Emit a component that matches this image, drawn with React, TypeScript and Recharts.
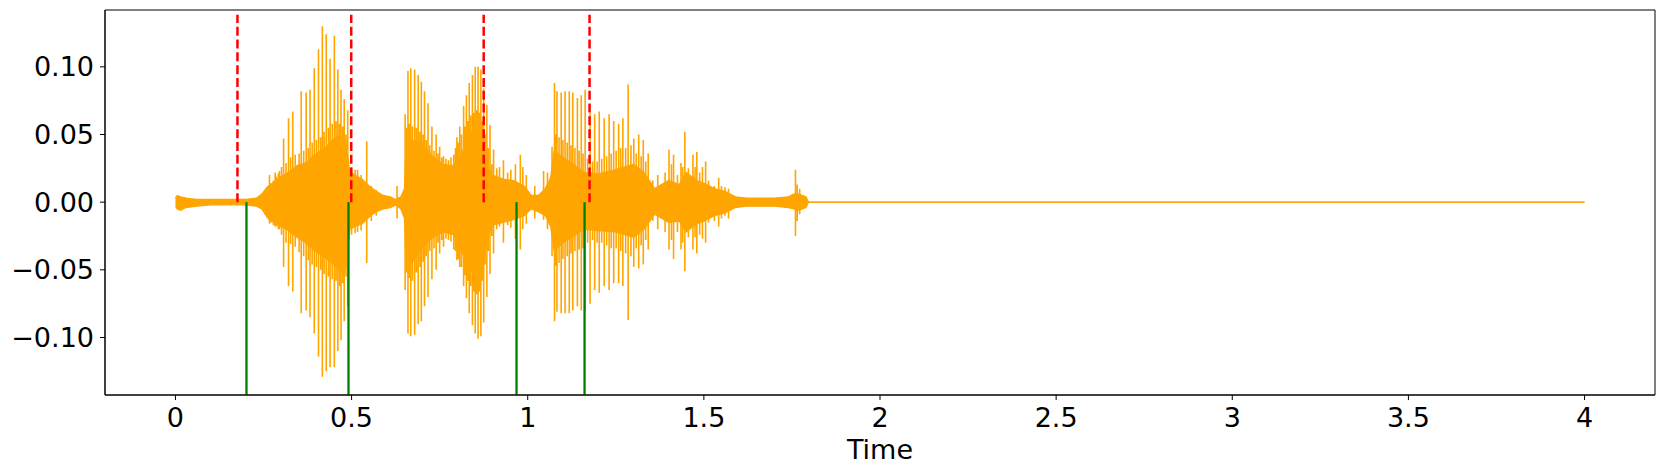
import React from 'react'
import {
  ComposedChart, Area, Line, XAxis, YAxis, ReferenceLine, ReferenceArea,
} from 'recharts'

// ── Data ─────────────────────────────────────────────────────────────────────

// dense part of the waveform: [time, upper, lower]
const coreTime = [
  0, 0.005, 0.015, 0.03, 0.06, 0.1, 0.15, 0.2, 0.23, 0.245, 0.26, 0.28, 0.3, 0.32, 0.345,
  0.37, 0.4, 0.42, 0.45, 0.47, 0.485, 0.495, 0.51, 0.53, 0.55, 0.57, 0.59, 0.61, 0.625,
  0.64, 0.65, 0.655, 0.67, 0.7, 0.73, 0.76, 0.79, 0.81, 0.83, 0.85, 0.87, 0.885, 0.9,
  0.93, 0.96, 0.99, 1.01, 1.03, 1.05, 1.065, 1.075, 1.1, 1.13, 1.16, 1.2, 1.25, 1.3,
  1.33, 1.36, 1.4, 1.43, 1.45, 1.48, 1.5, 1.53, 1.56, 1.59, 1.62, 1.66, 1.7, 1.74,
  1.755, 1.77, 1.79, 1.797, 4.0,
]
const coreHigh = [
  0.003, 0.005, 0.004, 0.003, 0.002, 0.002, 0.002, 0.002, 0.003, 0.006, 0.011, 0.015, 0.019, 0.022, 0.027,
  0.029, 0.036, 0.039, 0.047, 0.05, 0.043, 0.022, 0.02, 0.017, 0.012, 0.008, 0.005, 0.004, 0.002,
  0.004, 0.01, 0.042, 0.046, 0.043, 0.034, 0.028, 0.027, 0.035, 0.046, 0.056, 0.046, 0.026, 0.02,
  0.017, 0.016, 0.012, 0.005, 0.005, 0.01, 0.018, 0.038, 0.033, 0.028, 0.022, 0.021, 0.024, 0.028,
  0.022, 0.01, 0.016, 0.013, 0.022, 0.016, 0.014, 0.01, 0.008, 0.004, 0.003, 0.003, 0.003, 0.004,
  0.006, 0.006, 0.004, 0, 0,
]
const coreLow = [
  -0.003, -0.005, -0.006, -0.004, -0.003, -0.002, -0.002, -0.002, -0.003, -0.005, -0.011, -0.015, -0.018, -0.021, -0.026,
  -0.03, -0.037, -0.04, -0.046, -0.052, -0.047, -0.02, -0.018, -0.016, -0.011, -0.007, -0.005, -0.004, -0.002,
  -0.005, -0.012, -0.044, -0.045, -0.034, -0.026, -0.022, -0.024, -0.035, -0.047, -0.055, -0.043, -0.025, -0.017,
  -0.015, -0.013, -0.01, -0.005, -0.007, -0.01, -0.018, -0.036, -0.03, -0.025, -0.02, -0.021, -0.022, -0.026,
  -0.02, -0.009, -0.015, -0.014, -0.022, -0.016, -0.014, -0.01, -0.008, -0.004, -0.003, -0.003, -0.003, -0.004,
  -0.005, -0.006, -0.004, 0, 0,
]

// tall pitch pulses
const spikeTime = [
  0.267, 0.283, 0.295, 0.307, 0.321, 0.333, 0.357, 0.371, 0.382, 0.394, 0.406, 0.417, 0.428,
  0.439, 0.451, 0.461, 0.47, 0.479, 0.489, 0.51, 0.543, 0.629,
  0.652, 0.66, 0.668, 0.679, 0.689, 0.698, 0.707, 0.717, 0.728, 0.74, 0.75, 0.761, 0.775,
  0.79, 0.799, 0.807, 0.818, 0.826, 0.834, 0.843, 0.851, 0.859, 0.867, 0.875, 0.884, 0.893,
  0.903, 0.931, 0.965, 0.979, 1.045, 1.069, 1.076, 1.083, 1.095, 1.106, 1.118, 1.128, 1.141,
  1.152, 1.163, 1.177, 1.19, 1.203, 1.217, 1.231, 1.244, 1.258, 1.27, 1.285, 1.301, 1.315,
  1.328, 1.342, 1.369, 1.401, 1.414, 1.435, 1.446, 1.469, 1.48, 1.496, 1.505, 1.542, 1.57,
  1.76, 1.772,
]
const spikeHigh = [
  0.02, 0.022, 0.023, 0.047, 0.062, 0.067, 0.082, 0.081, 0.083, 0.099, 0.113, 0.13, 0.124,
  0.106, 0.123, 0.098, 0.083, 0.076, 0.068, 0.024, 0.045, 0.012,
  0.065, 0.097, 0.099, 0.098, 0.094, 0.089, 0.082, 0.073, 0.056, 0.05, 0.041, 0.034, 0.031,
  0.035, 0.048, 0.056, 0.071, 0.079, 0.088, 0.094, 0.1, 0.1, 0.098, 0.084, 0.072, 0.057,
  0.039, 0.031, 0.028, 0.035, 0.023, 0.041, 0.088, 0.082, 0.081, 0.082, 0.082, 0.081, 0.077,
  0.079, 0.083, 0.066, 0.065, 0.067, 0.062, 0.065, 0.06, 0.058, 0.062, 0.087, 0.047, 0.05,
  0.046, 0.036, 0.02, 0.039, 0.035, 0.029, 0.052, 0.035, 0.037, 0.026, 0.03, 0.018, 0.01,
  0.024, 0.01,
]
const spikeLow = [
  -0.016, -0.018, -0.02, -0.048, -0.062, -0.066, -0.082, -0.08, -0.085, -0.097, -0.114, -0.129, -0.125,
  -0.122, -0.122, -0.11, -0.102, -0.088, -0.077, -0.023, -0.045, -0.012,
  -0.065, -0.097, -0.099, -0.098, -0.09, -0.088, -0.077, -0.07, -0.057, -0.05, -0.038, -0.033, -0.028,
  -0.035, -0.043, -0.048, -0.062, -0.071, -0.082, -0.091, -0.097, -0.101, -0.099, -0.089, -0.07, -0.053,
  -0.038, -0.03, -0.027, -0.035, -0.013, -0.04, -0.088, -0.081, -0.082, -0.082, -0.082, -0.08, -0.077,
  -0.08, -0.08, -0.075, -0.065, -0.067, -0.062, -0.065, -0.06, -0.06, -0.062, -0.087, -0.048, -0.049,
  -0.046, -0.035, -0.02, -0.035, -0.042, -0.035, -0.051, -0.035, -0.038, -0.027, -0.03, -0.018, -0.012,
  -0.025, -0.009,
]

// shorter wiggles that make the dense part ragged
const minorTime = [
  0.255, 0.264, 0.272, 0.278, 0.286, 0.292, 0.301, 0.314, 0.327, 0.34, 0.351, 0.364, 0.377,
  0.388, 0.4, 0.412, 0.422, 0.434, 0.445, 0.456, 0.466, 0.475, 0.484, 0.5, 0.517, 0.527,
  0.556, 0.57,
  0.656, 0.664, 0.673, 0.684, 0.694, 0.703, 0.712, 0.722, 0.734, 0.745, 0.756, 0.768, 0.782,
  0.795, 0.803, 0.812, 0.822, 0.83, 0.838, 0.847, 0.855, 0.863, 0.871, 0.879, 0.888, 0.898,
  0.912, 0.92, 0.943, 0.952, 0.986, 0.996, 1.02, 1.056,
  1.08, 1.089, 1.1, 1.112, 1.123, 1.134, 1.146, 1.157, 1.17, 1.184, 1.197, 1.21, 1.224,
  1.237, 1.251, 1.264, 1.278, 1.293, 1.308, 1.322, 1.335, 1.355, 1.39, 1.408, 1.425, 1.44,
  1.456, 1.475, 1.488, 1.513, 1.53, 1.55, 1.56, 1.765,
]
const minorHigh = [
  0.008, 0.012, 0.014, 0.016, 0.019, 0.021, 0.026, 0.029, 0.033, 0.035, 0.036, 0.038, 0.04,
  0.044, 0.046, 0.048, 0.052, 0.055, 0.058, 0.06, 0.058, 0.056, 0.05, 0.026, 0.024, 0.02,
  0.012, 0.009,
  0.055, 0.058, 0.056, 0.055, 0.052, 0.05, 0.046, 0.042, 0.038, 0.036, 0.033, 0.032, 0.033,
  0.04, 0.044, 0.05, 0.056, 0.06, 0.064, 0.066, 0.068, 0.066, 0.06, 0.05, 0.04, 0.028,
  0.025, 0.026, 0.022, 0.024, 0.026, 0.02, 0.012, 0.022,
  0.05, 0.048, 0.046, 0.044, 0.042, 0.04, 0.038, 0.036, 0.032, 0.03, 0.03, 0.032, 0.034,
  0.036, 0.038, 0.04, 0.04, 0.042, 0.036, 0.034, 0.03, 0.016, 0.022, 0.028, 0.02, 0.026,
  0.025, 0.026, 0.022, 0.016, 0.012, 0.012, 0.011, 0.013,
]
const minorLow = [
  -0.009, -0.013, -0.015, -0.017, -0.018, -0.02, -0.024, -0.03, -0.031, -0.033, -0.037, -0.04, -0.043,
  -0.046, -0.048, -0.05, -0.053, -0.055, -0.057, -0.058, -0.062, -0.06, -0.055, -0.024, -0.022, -0.021,
  -0.014, -0.01,
  -0.052, -0.056, -0.058, -0.052, -0.048, -0.044, -0.04, -0.036, -0.034, -0.03, -0.028, -0.027, -0.029,
  -0.036, -0.042, -0.048, -0.054, -0.058, -0.062, -0.066, -0.068, -0.066, -0.058, -0.046, -0.036, -0.025,
  -0.02, -0.018, -0.017, -0.019, -0.02, -0.016, -0.012, -0.02,
  -0.047, -0.045, -0.042, -0.04, -0.038, -0.036, -0.035, -0.034, -0.03, -0.028, -0.03, -0.03, -0.032,
  -0.034, -0.034, -0.036, -0.038, -0.04, -0.034, -0.032, -0.028, -0.014, -0.022, -0.028, -0.022, -0.03,
  -0.026, -0.026, -0.024, -0.015, -0.014, -0.012, -0.01, -0.014,
]

// detected onsets (red, dashed, above zero) and reference onsets (green, below zero)
const redMarks = [0.176, 0.499, 0.875, 1.1755]
const greenMarks = [0.2016, 0.4912, 0.9682, 1.1613]

const timeTicks = [0, 0.5, 1, 1.5, 2, 2.5, 3, 3.5, 4]
const ampTicks = [-0.1, -0.05, 0, 0.05, 0.1]

// ── Layout ───────────────────────────────────────────────────────────────────

const X_DOMAIN: [number, number] = [-0.2, 4.2]
const Y_DOMAIN: [number, number] = [-0.1425, 0.142]
const RED_TOP = 0.1385
const ORANGE = '#FFA500'
const FONT = 27
const TICK = { fill: '#000', fontSize: FONT } as const

const coreData = coreTime.map((t, i) => ({ t, band: [coreLow[i], coreHigh[i]] }))

// every pulse: sit on zero, go up, go down, back to zero
const pulses = [
  ...spikeTime.map((t, i) => ({ t, hi: spikeHigh[i], lo: spikeLow[i] })),
  ...minorTime.map((t, i) => ({ t, hi: minorHigh[i], lo: minorLow[i] })),
].sort((a, b) => a.t - b.t)

const pulseData = pulses.flatMap((p) => [
  { t: p.t, v: 0 },
  { t: p.t, v: p.hi },
  { t: p.t, v: p.lo },
  { t: p.t, v: 0 },
])

const fmtAmp = (v: number) => (v < 0 ? '\u2212' : '') + Math.abs(v).toFixed(2)

export default function App() {
  return (
    <div style={{ position: 'absolute', left: 0, top: 0, width: 1664, height: 476, background: '#fff', fontFamily: '"DejaVu Sans", sans-serif' }}>
      <ComposedChart width={1664} height={476} margin={{ top: 10, right: 9, left: 0, bottom: 0 }}>
        <XAxis
          type="number"
          dataKey="t"
          domain={X_DOMAIN}
          allowDataOverflow
          ticks={timeTicks}
          tick={TICK}
          tickSize={5}
          tickMargin={8}
          tickLine={{ stroke: '#000' }}
          axisLine={{ stroke: '#000' }}
          height={81}
          label={{ value: 'Time', position: 'insideBottom', offset: 17, fill: '#000', fontSize: FONT }}
        />
        <YAxis
          type="number"
          domain={Y_DOMAIN}
          allowDataOverflow
          ticks={ampTicks}
          tickFormatter={fmtAmp}
          tick={TICK}
          tickSize={5}
          tickMargin={6}
          tickLine={{ stroke: '#000' }}
          axisLine={{ stroke: '#000' }}
          width={105}
        />
        <Area
          data={coreData}
          dataKey="band"
          type="linear"
          stroke={ORANGE}
          strokeWidth={1.2}
          fill={ORANGE}
          fillOpacity={1}
          dot={false}
          activeDot={false}
          isAnimationActive={false}
        />
        <Line
          data={pulseData}
          dataKey="v"
          type="linear"
          stroke={ORANGE}
          strokeWidth={1.6}
          dot={false}
          activeDot={false}
          isAnimationActive={false}
        />
        {redMarks.map((x) => (
          <ReferenceLine
            key={`r${x}`}
            segment={[{ x, y: 0 }, { x, y: RED_TOP }]}
            stroke="#FF0000"
            strokeWidth={2.5}
            strokeDasharray="9 3.8"
          />
        ))}
        {greenMarks.map((x) => (
          <ReferenceLine
            key={`g${x}`}
            segment={[{ x, y: Y_DOMAIN[0] }, { x, y: 0 }]}
            stroke="#008000"
            strokeWidth={2.3}
          />
        ))}
        <ReferenceArea
          x1={X_DOMAIN[0]}
          x2={X_DOMAIN[1]}
          y1={Y_DOMAIN[0]}
          y2={Y_DOMAIN[1]}
          fill="none"
          stroke="#000"
          strokeWidth={1}
        />
      </ComposedChart>
    </div>
  )
}
